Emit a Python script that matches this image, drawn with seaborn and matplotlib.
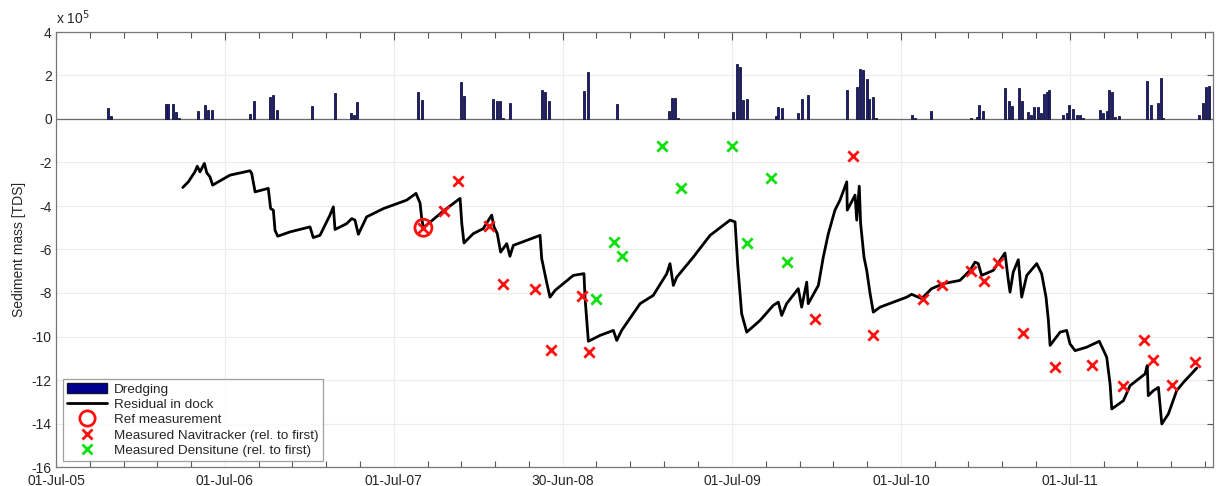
import numpy as np
import pandas as pd
import matplotlib
matplotlib.use("Agg")
import matplotlib.pyplot as plt
from matplotlib.lines import Line2D
from matplotlib.patches import Patch
import seaborn as sns

# ---- data (times in decimal years, masses in units of 1e5 TDS) ----
dredge_t = [2005.809, 2005.825, 2006.151, 2006.164, 2006.191, 2006.208, 2006.228,
            2006.342, 2006.382, 2006.401, 2006.421, 2006.648, 2006.672, 2006.766,
            2006.786, 2006.806, 2007.017, 2007.149, 2007.244, 2007.263, 2007.283,
            2007.644, 2007.666, 2007.895, 2007.912, 2008.088, 2008.108, 2008.127,
            2008.147, 2008.186, 2008.376, 2008.393, 2008.415, 2008.624, 2008.646,
            2008.820, 2009.125, 2009.143, 2009.163, 2009.182, 2009.508, 2009.528,
            2009.547, 2009.567, 2009.587, 2009.760, 2009.774, 2009.794, 2009.892,
            2009.912, 2009.950, 2010.179, 2010.238, 2010.257, 2010.277, 2010.297,
            2010.312, 2010.333, 2010.352, 2010.563, 2010.583, 2010.678, 2010.912,
            2010.948, 2010.963, 2010.983, 2011.117, 2011.137, 2011.157, 2011.196,
            2011.216, 2011.251, 2011.269, 2011.289, 2011.309, 2011.328, 2011.348,
            2011.364, 2011.378, 2011.460, 2011.480, 2011.496, 2011.520, 2011.540,
            2011.559, 2011.579, 2011.678, 2011.693, 2011.717, 2011.731, 2011.750,
            2011.768, 2011.790, 2011.957, 2011.977, 2012.022, 2012.039, 2012.048,
            2012.265, 2012.285, 2012.305, 2012.324]
dredge_mass = [0.52, 0.15, 0.71, 0.71, 0.71, 0.34, 0.05,
               0.38, 0.65, 0.43, 0.43, 0.22, 0.82, 1.02,
               1.09, 0.42, 0.60, 1.18, 0.29, 0.17, 0.77,
               1.23, 0.89, 1.71, 1.05, 0.92, 0.85, 0.85,
               0.06, 0.72, 1.32, 1.25, 0.85, 1.28, 2.15,
               0.69, 0.38, 0.97, 0.97, 0.06, 0.31, 2.52,
               2.37, 0.86, 0.91, 0.15, 0.54, 0.49, 0.26,
               0.91, 1.11, 1.34, 1.46, 2.29, 2.25, 1.83,
               0.91, 1.03, 0.06, 0.20, 0.06, 0.37, 0.03,
               0.08, 0.63, 0.35, 1.42, 0.83, 0.62, 1.42,
               0.85, 0.34, 0.18, 0.54, 0.54, 0.29, 1.14,
               1.22, 1.32, 0.17, 0.26, 0.66, 0.45, 0.20,
               0.17, 0.06, 0.43, 0.26, 0.37, 1.34, 1.26,
               0.08, 0.15, 1.75, 0.63, 0.75, 1.89, 0.06,
               0.18, 0.75, 1.49, 1.51]

resid_t = [2006.250, 2006.283, 2006.322, 2006.336, 2006.352, 2006.378, 2006.392,
           2006.411, 2006.427, 2006.460, 2006.530, 2006.648, 2006.658, 2006.678,
           2006.756, 2006.770, 2006.786, 2006.796, 2006.812, 2006.885, 2007.003,
           2007.022, 2007.062, 2007.121, 2007.141, 2007.151, 2007.220, 2007.250,
           2007.269, 2007.289, 2007.338, 2007.437, 2007.575, 2007.630, 2007.654,
           2007.664, 2007.674, 2007.792, 2007.891, 2007.901, 2007.914, 2007.969,
           2008.028, 2008.078, 2008.092, 2008.111, 2008.131, 2008.167, 2008.186,
           2008.206, 2008.285, 2008.364, 2008.374, 2008.403, 2008.423, 2008.453,
           2008.561, 2008.624, 2008.630, 2008.650, 2008.719, 2008.798, 2008.818,
           2008.847, 2008.956, 2009.034, 2009.114, 2009.133, 2009.153, 2009.173,
           2009.271, 2009.370, 2009.488, 2009.518, 2009.534, 2009.557, 2009.587,
           2009.666, 2009.744, 2009.774, 2009.794, 2009.823, 2009.892, 2009.912,
           2009.942, 2009.951, 2010.011, 2010.040, 2010.070, 2010.109, 2010.139,
           2010.179, 2010.182, 2010.228, 2010.238, 2010.253, 2010.261, 2010.281,
           2010.297, 2010.317, 2010.336, 2010.376, 2010.534, 2010.563, 2010.622,
           2010.681, 2010.750, 2010.849, 2010.908, 2010.938, 2010.957, 2010.977,
           2011.046, 2011.115, 2011.135, 2011.145, 2011.164, 2011.194, 2011.214,
           2011.244, 2011.303, 2011.332, 2011.358, 2011.372, 2011.382, 2011.441,
           2011.480, 2011.500, 2011.530, 2011.599, 2011.673, 2011.717, 2011.737,
           2011.747, 2011.816, 2011.855, 2011.944, 2011.957, 2011.963, 2011.993,
           2012.023, 2012.043, 2012.082, 2012.131, 2012.171, 2012.250]
resid_mass = [-3.15, -2.89, -2.43, -2.17, -2.43, -2.04, -2.47,
              -2.66, -3.04, -2.89, -2.58, -2.38, -2.50, -3.35,
              -3.19, -4.12, -4.19, -5.12, -5.39, -5.19, -4.96,
              -5.45, -5.35, -4.42, -4.04, -5.08, -4.81, -4.58,
              -4.65, -5.30, -4.50, -4.12, -3.73, -3.42, -3.86,
              -4.58, -5.00, -4.23, -3.65, -4.80, -5.70, -5.27,
              -5.04, -4.42, -4.96, -5.27, -6.12, -5.73, -6.31,
              -5.81, -5.58, -5.35, -6.42, -7.50, -8.19, -7.88,
              -7.19, -7.11, -8.19, -10.22, -9.95, -9.72, -10.18,
              -9.72, -8.49, -8.11, -7.11, -6.65, -7.65, -7.27,
              -6.35, -5.35, -4.65, -4.73, -6.73, -8.95, -9.80,
              -9.26, -8.57, -8.42, -9.03, -8.49, -7.80, -8.65,
              -7.50, -8.49, -7.65, -6.35, -5.27, -4.19, -3.73,
              -2.89, -4.19, -3.50, -4.65, -3.09, -4.81, -6.35,
              -6.96, -8.03, -8.88, -8.65, -8.19, -8.06, -8.26,
              -7.80, -7.57, -7.42, -6.96, -6.58, -6.65, -7.19,
              -6.96, -6.16, -7.42, -7.96, -7.04, -6.47, -8.19,
              -7.19, -6.65, -7.11, -8.19, -9.26, -10.41, -9.80,
              -9.72, -10.34, -10.65, -10.49, -10.22, -10.95, -12.18,
              -13.33, -12.95, -12.26, -11.72, -11.34, -12.72, -12.49,
              -12.34, -14.02, -13.56, -12.49, -12.11, -11.45]

ref_t = [2007.674]
ref_mass = [-5.00]

navi_t = [2007.674, 2007.793, 2007.876, 2008.064, 2008.143, 2008.334, 2008.429,
          2008.614, 2008.654, 2009.991, 2010.218, 2010.336, 2010.628, 2010.741,
          2010.912, 2010.991, 2011.072, 2011.220, 2011.413, 2011.630, 2011.815,
          2011.938, 2011.989, 2012.102, 2012.240]
navi_mass = [-5.00, -4.24, -2.86, -4.92, -7.60, -7.82, -10.61,
             -8.14, -10.72, -9.18, -1.69, -9.95, -8.26, -7.65,
             -6.99, -7.45, -6.62, -9.83, -11.41, -11.29, -12.29,
             -10.15, -11.07, -12.21, -11.18]

dens_t = [2008.693, 2008.802, 2008.851, 2009.088, 2009.196, 2009.502, 2009.591,
          2009.731, 2009.827]
dens_mass = [-8.28, -5.65, -6.31, -1.23, -3.17, -1.23, -5.68, -2.73, -6.58]

tick_labels = ["01-Jul-05", "01-Jul-06", "01-Jul-07", "30-Jun-08",
               "01-Jul-09", "01-Jul-10", "01-Jul-11"]
y_ticks = [-16, -14, -12, -10, -8, -6, -4, -2, 0, 2, 4]


def to_dates(t):
    base = pd.Timestamp("2005-07-01")
    days = (np.asarray(t, dtype=float) - 2005.5) * 365.25
    return base + pd.to_timedelta(days, unit="D")


sns.set_theme(style="white")
plt.rcParams["font.family"] = ["Liberation Sans", "DejaVu Sans"]
plt.rcParams["xtick.direction"] = "in"
plt.rcParams["ytick.direction"] = "in"

FS = 10

fig = plt.figure(figsize=(12.16, 4.86), dpi=100)
ax = fig.add_axes([56 / 1216, 19 / 486, 1157 / 1216, 435 / 486])

major_dates = pd.to_datetime(tick_labels, format="%d-%b-%y")
x_lo = major_dates[0]
x_hi = to_dates([2012.346])[0]

# light grid
for d in major_dates:
    ax.axvline(d, color="#ececec", lw=0.8, zorder=0)
for yv in y_ticks:
    ax.axhline(yv, color="#ececec", lw=0.8, zorder=0)

# dredging bars above zero
ax.bar(to_dates(dredge_t), dredge_mass, width=4.5, color="#1c1c7a",
       edgecolor="#15153a", linewidth=0.6, zorder=2)
ax.axhline(0, color="#6a6a6a", lw=0.9, zorder=1)

sns.lineplot(x=to_dates(resid_t), y=resid_mass, ax=ax, color="black",
             lw=2.0, estimator=None, sort=False, zorder=3)
sns.scatterplot(x=to_dates(ref_t), y=ref_mass, ax=ax, marker="o", s=150,
                facecolor="none", edgecolor="#ff1010", linewidth=2.0, zorder=4)
sns.scatterplot(x=to_dates(navi_t), y=navi_mass, ax=ax, marker="x", s=55,
                color="#ff1010", linewidth=2.0, zorder=5)
sns.scatterplot(x=to_dates(dens_t), y=dens_mass, ax=ax, marker="x", s=55,
                color="#10e010", linewidth=2.0, zorder=5)

ax.set_xlim(x_lo, x_hi)
ax.set_ylim(-16, 4)
ax.set_yticks(y_ticks)
ax.set_yticklabels([str(v) for v in y_ticks], fontsize=FS)
ax.set_xticks(major_dates)
ax.set_xticklabels(tick_labels, fontsize=FS)

# minor ticks: five intervals per year
minor = []
step = pd.Timedelta(days=73)
for d0 in major_dates:
    for k in range(1, 5):
        minor.append(d0 + k * step)
ax.set_xticks(minor, minor=True)
ax.tick_params(axis="both", which="major", length=6, width=0.8, color="#555555",
               top=True, right=True)
ax.tick_params(axis="x", which="major", pad=5)
ax.tick_params(axis="x", which="minor", length=4, width=0.8, color="#555555",
               top=True, bottom=True)
ax.tick_params(axis="y", which="major", length=4, pad=3)

for s in ax.spines.values():
    s.set_color("#777777")
    s.set_linewidth(0.9)

ax.set_xlabel("")
ax.set_ylabel("Sediment mass [TDS]", fontsize=FS, labelpad=4)
ax.text(0.0, 1.012, r"x 10$^5$", transform=ax.transAxes, fontsize=FS,
        ha="left", va="bottom")

handles = [
    Patch(facecolor="#00008f", edgecolor="#101030", label="Dredging"),
    Line2D([], [], color="black", lw=2.0, label="Residual in dock"),
    Line2D([], [], marker="o", ls="none", mfc="none", mec="#ff1010", mew=2.0,
           ms=11, label="Ref measurement"),
    Line2D([], [], marker="x", ls="none", color="#ff1010", mew=2.0, ms=7,
           label="Measured Navitracker (rel. to first)"),
    Line2D([], [], marker="x", ls="none", color="#10e010", mew=2.0, ms=7,
           label="Measured Densitune (rel. to first)"),
]
leg = ax.legend(handles=handles, loc="lower left", bbox_to_anchor=(0.006, 0.014),
                fontsize=9.7, frameon=True, fancybox=False, handlelength=3.0,
                handleheight=0.8, labelspacing=0.18, borderpad=0.3,
                handletextpad=0.5, borderaxespad=0.0)
leg.get_frame().set_edgecolor("#888888")
leg.get_frame().set_linewidth(0.9)

fig.savefig("out.png", dpi=100)
